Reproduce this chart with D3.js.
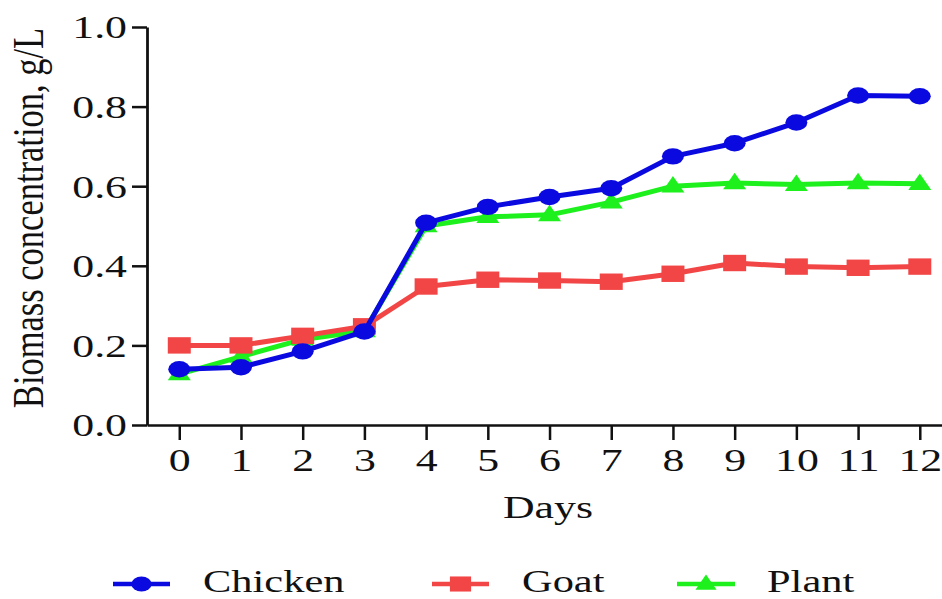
<!DOCTYPE html>
<html>
<head>
<meta charset="utf-8">
<script src="https://cdn.jsdelivr.net/npm/d3@7/dist/d3.min.js"></script>
<style>
  html, body { margin: 0; padding: 0; background: #fff; }
  svg { display: block; }
  text { font-family: "Liberation Serif", "Times New Roman", serif; fill: #111; }
</style>
</head>
<body>
<svg id="chart" width="942" height="599"></svg>
<script>
// Biomass concentration (g/L) over 12 days for three substrates
const days = [0, 1, 2, 3, 4, 5, 6, 7, 8, 9, 10, 11, 12];
const chicken = [0.140, 0.145, 0.185, 0.235, 0.508, 0.548, 0.573, 0.595, 0.675, 0.708, 0.760, 0.828, 0.826];
const goat    = [0.200, 0.200, 0.224, 0.248, 0.348, 0.365, 0.363, 0.360, 0.380, 0.407, 0.398, 0.395, 0.398];
const plant   = [0.128, 0.172, 0.215, 0.236, 0.500, 0.523, 0.528, 0.560, 0.600, 0.608, 0.604, 0.608, 0.606];
const yTicks = [0.0, 0.2, 0.4, 0.6, 0.8, 1.0];
const seriesNames = ["Chicken", "Goat", "Plant"];

const colors = { Chicken: "#0a0ae0", Goat: "#f24646", Plant: "#1df01d" };
const shapes = { Chicken: "circle", Goat: "square", Plant: "triangle" };
const values = { Chicken: chicken, Goat: goat, Plant: plant };

const SX = 1.37; // horizontal widening applied to all text

const svg = d3.select("#chart");

const x = d3.scaleLinear().domain([-0.523, 12.36]).range([147, 942]);
const y = d3.scaleLinear().domain([0, 1]).range([425, 27]);

// Axes
const xAxis = svg.append("g")
  .attr("transform", `translate(0,${y(0)})`)
  .call(d3.axisBottom(x).tickValues(days).tickFormat(d3.format("d")).tickSize(15).tickSizeOuter(0));
xAxis.select(".domain").attr("stroke", "#111").attr("stroke-width", 2.5);
xAxis.selectAll(".tick line").attr("stroke", "#111").attr("stroke-width", 2.5);
xAxis.selectAll(".tick text")
  .attr("font-size", 32).attr("font-family", "Liberation Serif")
  .attr("fill", "#111")
  .attr("y", 0).attr("dy", 0)
  .attr("transform", `translate(0,46) scale(${SX},1)`);

const yAxis = svg.append("g")
  .attr("transform", `translate(${x.range()[0]},0)`)
  .call(d3.axisLeft(y).tickValues(yTicks).tickFormat(d3.format(".1f")).tickSize(15).tickSizeOuter(0));
yAxis.select(".domain").attr("stroke", "#111").attr("stroke-width", 2.8);
yAxis.selectAll(".tick line").attr("stroke", "#111").attr("stroke-width", 2.5);
yAxis.selectAll(".tick text")
  .attr("font-size", 32).attr("font-family", "Liberation Serif")
  .attr("fill", "#111")
  .attr("x", -20 / SX).attr("dy", "0.34em")
  .attr("transform", `scale(${SX},1)`);

// Axis titles
svg.append("text")
  .attr("transform", `translate(548,518) scale(${SX},1)`)
  .attr("text-anchor", "middle")
  .attr("font-size", 32)
  .text("Days");

svg.append("text")
  .attr("transform", `translate(43,218) rotate(-90) scale(1,1.3)`)
  .attr("text-anchor", "middle")
  .attr("font-size", 34.5)
  .text("Biomass concentration, g/L");

// Marker drawing
function drawMarker(g, shape, cx, cy, color, s) {
  if (shape === "circle") {
    g.append("ellipse").attr("cx", cx).attr("cy", cy)
      .attr("rx", 11 * s).attr("ry", 8.2 * s).attr("fill", color);
  } else if (shape === "square") {
    g.append("rect").attr("x", cx - 11.5 * s).attr("y", cy - 8.2 * s)
      .attr("width", 23 * s).attr("height", 16.4 * s).attr("fill", color);
  } else {
    const w = 11.5 * s, h = 16.5 * s;
    g.append("path")
      .attr("d", `M${cx},${cy - h * 0.62}L${cx + w},${cy + h * 0.38}L${cx - w},${cy + h * 0.38}Z`)
      .attr("fill", color);
  }
}

const line = d3.line().x(d => x(d[0])).y(d => y(d[1]));

// Plant drawn first, chicken on top
["Plant", "Goat", "Chicken"].forEach(name => {
  const pts = days.map((d, i) => [d, values[name][i]]);
  const g = svg.append("g");
  g.append("path").attr("d", line(pts))
    .attr("fill", "none").attr("stroke", colors[name])
    .attr("stroke-width", 5).attr("stroke-linejoin", "round");
  pts.forEach(p => drawMarker(g, shapes[name], x(p[0]), y(p[1]), colors[name], 1));
});

// Legend
const legendItems = [
  { name: "Chicken", x0: 113, x1: 170, tx: 203 },
  { name: "Goat", x0: 432, x1: 489, tx: 522 },
  { name: "Plant", x0: 677, x1: 735, tx: 767 }
];
const legendY = 584;
legendItems.forEach(it => {
  const g = svg.append("g");
  g.append("line").attr("x1", it.x0).attr("x2", it.x1)
    .attr("y1", legendY).attr("y2", legendY)
    .attr("stroke", colors[it.name]).attr("stroke-width", 4.5);
  drawMarker(g, shapes[it.name], (it.x0 + it.x1) / 2, legendY, colors[it.name], 0.92);
  g.append("text")
    .attr("transform", `translate(${it.tx},592) scale(${SX},1)`)
    .attr("font-size", 31)
    .text(it.name);
});
</script>
</body>
</html>
